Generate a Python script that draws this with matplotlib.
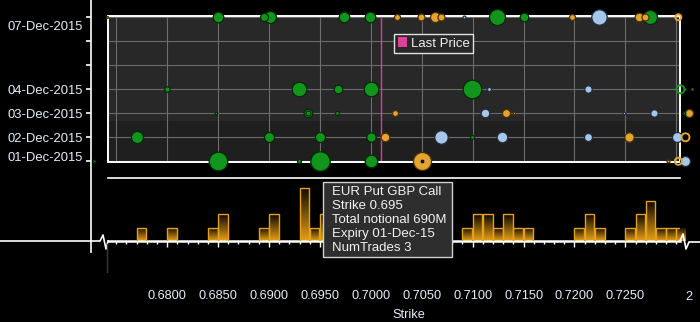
#!/usr/bin/env python3
"""FX option trades by strike/expiry: bubble chart + strike histogram (terminal style)."""

import matplotlib

matplotlib.use("Agg")
import matplotlib.pyplot as plt
import numpy as np
from matplotlib.patches import Patch, Rectangle
from matplotlib.colors import LinearSegmentedColormap
from matplotlib.transforms import ScaledTranslation

plt.rcParams["font.family"] = ["Liberation Sans", "DejaVu Sans"]

# ---- bubble data: strike, expiry day (Dec-2015), total notional (M) ----
GREEN_STRIKE = [0.6850, 0.6895, 0.6901, 0.6974, 0.6999, 0.7124, 0.7150, 0.7274,
                0.6800, 0.6929, 0.6968, 0.7000, 0.7099,
                0.6848, 0.6938, 0.6938, 0.6967, 0.7308,
                0.6770, 0.6900, 0.6950, 0.7000, 0.7099,
                0.6728, 0.6850, 0.6929, 0.6950, 0.7000]
GREEN_DAY = [7, 7, 7, 7, 7, 7, 7, 7,
             4, 4, 4, 4, 4,
             3, 3, 3, 3, 3,
             2, 2, 2, 2, 2,
             1, 1, 1, 1, 1]
GREEN_NOTIONAL = [206, 118, 265, 206, 206, 470, 136, 360,
                  54, 390, 136, 390, 634,
                  12, 136, 46, 29, 12,
                  265, 184, 184, 162, 29,
                  12, 634, 29, 690, 292]

ORANGE_STRIKE = [0.6741, 0.7026, 0.7049, 0.7063, 0.7069, 0.7198, 0.7263, 0.7269,
                 0.7315,
                 0.7024, 0.7133, 0.7141, 0.7312,
                 0.7014, 0.7254,
                 0.7050, 0.7292]
ORANGE_DAY = [7, 7, 7, 7, 7, 7, 7, 7,
              4,
              3, 3, 3, 3,
              2, 2,
              1, 1]
ORANGE_NOTIONAL = [7, 66, 90, 184, 90, 66, 136, 90,
                   7,
                   66, 118, 12, 118,
                   136, 162,
                   594, 16]

BLUE_STRIKE = [0.7091, 0.7224,
               0.7116, 0.7213, 0.7309,
               0.7112, 0.7249, 0.7278,
               0.7069, 0.7129, 0.7213, 0.7301,
               0.7309]
BLUE_DAY = [7, 7, 4, 4, 4, 3, 3, 3, 2, 2, 2, 2, 1]
BLUE_NOTIONAL = [16, 435, 29, 100, 7, 136, 12, 100, 330, 206, 118, 184, 184]

# hollow (outline only) bubbles at the right edge
RING_STRIKE = [0.7302, 0.7309, 0.7302, 0.7304]
RING_DAY = [7, 2, 1, 4]
RING_NOTIONAL = [66, 118, 90, 118]
RING_KIND = ["orange", "orange", "orange", "green"]

HOVER_STRIKE, HOVER_DAY = 0.7050, 1
LAST_PRICE = 0.7010

EXPIRY_TICKS = [1, 2, 3, 4, 5, 6, 7]
EXPIRY_LABELS = ["01-Dec-2015", "02-Dec-2015", "03-Dec-2015", "04-Dec-2015",
                 "", "", "07-Dec-2015"]

# ---- histogram: number of trades per 0.001 strike bin ----
HIST_BIN = [0.677, 0.680, 0.684, 0.685, 0.689, 0.690, 0.693, 0.694, 0.695,
            0.709, 0.710, 0.711, 0.712, 0.713, 0.714, 0.715,
            0.720, 0.721, 0.722,
            0.725, 0.726, 0.727, 0.728, 0.729, 0.730]
HIST_COUNT = [1, 1, 1, 2, 1, 2, 4, 1, 2,
              1, 2, 2, 1, 2, 1, 1,
              1, 2, 1,
              1, 2, 3, 1, 1, 1]

STRIKE_TICKS = [0.680, 0.685, 0.690, 0.695, 0.700, 0.705, 0.710, 0.715, 0.720, 0.725]
TOOLTIP_LINES = ["EUR Put GBP Call", "Strike 0.695", "Total notional 690M",
                 "Expiry 01-Dec-15", "NumTrades 3"]

COLORS = {
    "green": ("#12951d", "#052a05"),
    "orange": ("#e3a431", "#4a3006"),
    "blue": ("#a6c6ea", "#1f2d3e"),
}
BG = "#000000"
TEXT = "#e4eefa"
BAR_EDGE = "#e6a11c"
SIZE_PER_M = 0.283  # pt^2 per million notional
XLIM = (0.674185, 0.730363)

W, H = 700, 322
fig = plt.figure(figsize=(W / 100, H / 100), dpi=100, facecolor=BG)


def rect(x0, y0, x1, y1):
    return [x0 / W, 1 - y1 / H, (x1 - x0) / W, (y1 - y0) / H]


# ---------------- bubble panel ----------------
ax = fig.add_axes(rect(108, 16, 680, 162.3))
ax.set_facecolor("#282828")
ax.set_xlim(*XLIM)
ax.set_ylim(0.958, 7.054)
ax.axhspan(0.958, 2.68, color="#1f1f1f", zorder=0, lw=0)
ax.set_xticks(np.arange(0.675, 0.7301, 0.005))
ax.set_yticks(EXPIRY_TICKS)
ax.set_yticklabels(EXPIRY_LABELS)
ax.grid(True, color="#6c6c6c", lw=0.8, zorder=1)
ax.set_axisbelow(True)
ax.tick_params(axis="x", length=0, labelbottom=False)
ax.tick_params(axis="y", direction="out", length=3.6, width=1.2, colors="white",
               labelcolor=TEXT, labelsize=9.4, pad=2)
for s in ("top", "right", "bottom"):
    ax.spines[s].set_visible(False)
ax.spines["left"].set_position(("outward", 12.2))
ax.spines["left"].set_visible(False)
labels = ax.get_yticklabels()
# end labels are pulled inside the axis range, as in the terminal chart
labels[0].set_transform(labels[0].get_transform()
                        + ScaledTranslation(0, 0.05, fig.dpi_scale_trans))
labels[-1].set_transform(labels[-1].get_transform()
                         + ScaledTranslation(0, -0.087, fig.dpi_scale_trans))

ax.add_patch(Rectangle((0, 0), 1, 1, transform=ax.transAxes, fill=False,
                       edgecolor="white", lw=1.4, zorder=2.5, clip_on=False))
ax.axvline(LAST_PRICE, color="#d4438a", lw=1.0, zorder=2)

pts = []
for kind, xs, ys, ns in (("green", GREEN_STRIKE, GREEN_DAY, GREEN_NOTIONAL),
                         ("orange", ORANGE_STRIKE, ORANGE_DAY, ORANGE_NOTIONAL),
                         ("blue", BLUE_STRIKE, BLUE_DAY, BLUE_NOTIONAL)):
    for x, y, n in zip(xs, ys, ns):
        pts.append((n, x, y, kind))
pts.sort(key=lambda p: -p[0])
for n, x, y, kind in pts:
    face, edge = COLORS[kind]
    ax.scatter([x], [y], s=n * SIZE_PER_M, c=face, edgecolors=edge,
               linewidths=0.9, zorder=3, clip_on=False)

for x, y, n, kind in zip(RING_STRIKE, RING_DAY, RING_NOTIONAL, RING_KIND):
    face, edge = COLORS[kind]
    ax.scatter([x], [y], s=n * SIZE_PER_M, facecolors="none", edgecolors=face,
               linewidths=1.4, zorder=4, clip_on=False)
ax.scatter([HOVER_STRIKE], [HOVER_DAY], s=3, c="#111111", zorder=5, clip_on=False)

ax.legend(handles=[Patch(facecolor="#e0409a", edgecolor="none", label="Last Price")],
          loc="upper left", bbox_to_anchor=(0.5005, 0.877), frameon=True,
          fancybox=False, facecolor="#282828", edgecolor="#e0e0e0", framealpha=1,
          borderaxespad=0, borderpad=0.25, handlelength=0.75, handleheight=0.75,
          handletextpad=0.25, fontsize=9.5, labelcolor="#f0f0f0")

# ---------------- histogram panel ----------------
axh = fig.add_axes(rect(108, 178.3, 680, 241))
axh.set_facecolor(BG)
bars = axh.bar(HIST_BIN, HIST_COUNT, width=0.00095, align="edge",
               facecolor="none", edgecolor=BAR_EDGE, lw=1.0, zorder=3)
cmap = LinearSegmentedColormap.from_list("bar", ["#e8a015", "#0c0800"])
grad = np.linspace(0, 1, 64).reshape(-1, 1)
for b in bars:
    im = axh.imshow(grad, extent=(b.get_x(), b.get_x() + b.get_width(), 0, b.get_height()),
                    origin="lower", cmap=cmap, aspect="auto", zorder=2)
    im.set_clip_path(b)
axh.set_xlim(*XLIM)
axh.set_ylim(0, 4.71)
axh.set_yticks([])
for s in ("left", "right"):
    axh.spines[s].set_visible(False)
axh.spines["top"].set_color("white")
axh.spines["top"].set_linewidth(1.2)
axh.spines["bottom"].set_color("white")
axh.spines["bottom"].set_linewidth(1.8)
axh.set_xticks(STRIKE_TICKS)
axh.set_xticklabels([f"{v:.4f}" for v in STRIKE_TICKS])
axh.set_xticks(np.arange(0.675, 0.7301, 0.001), minor=True)
axh.tick_params(axis="x", which="major", length=4.3, width=1, colors="white",
                labelcolor=TEXT, labelsize=9.2, pad=31)
axh.tick_params(axis="x", which="minor", length=2.2, width=1, colors="white")

# ---------------- decorations in pixel space ----------------
ov = fig.add_axes([0, 0, 1, 1], facecolor="none", zorder=10)
ov.set_xlim(0, W)
ov.set_ylim(H, 0)
ov.axis("off")
ov.plot([91, 91], [0, 252], color="white", lw=1.2)
ov.plot([0, 100, 103, 106, 108], [241, 241, 235, 249, 241], color="white", lw=1.2)
ov.plot([107.3, 107.3], [244, 272], color="#3a3a3a", lw=1.0)
ov.plot([680, 683, 686, 689, 700], [241, 234, 249, 242, 242], color="white", lw=1.2)
ov.text(689, 297, "2", color=TEXT, fontsize=9.2, ha="center", va="center")
ov.text(409, 315, "Strike", color=TEXT, fontsize=9.2, ha="center", va="center")

ov.add_patch(Rectangle((323, 182.3), 129, 75, facecolor="#2e2e2e",
                       edgecolor="#cfcfcf", lw=1.0))
for i, line in enumerate(TOOLTIP_LINES):
    ov.text(332, 191.7 + 14 * i, line, color="#f2f2f2", fontsize=9.5,
            ha="left", va="center")

fig.savefig("out.png", dpi=100, facecolor=BG)
